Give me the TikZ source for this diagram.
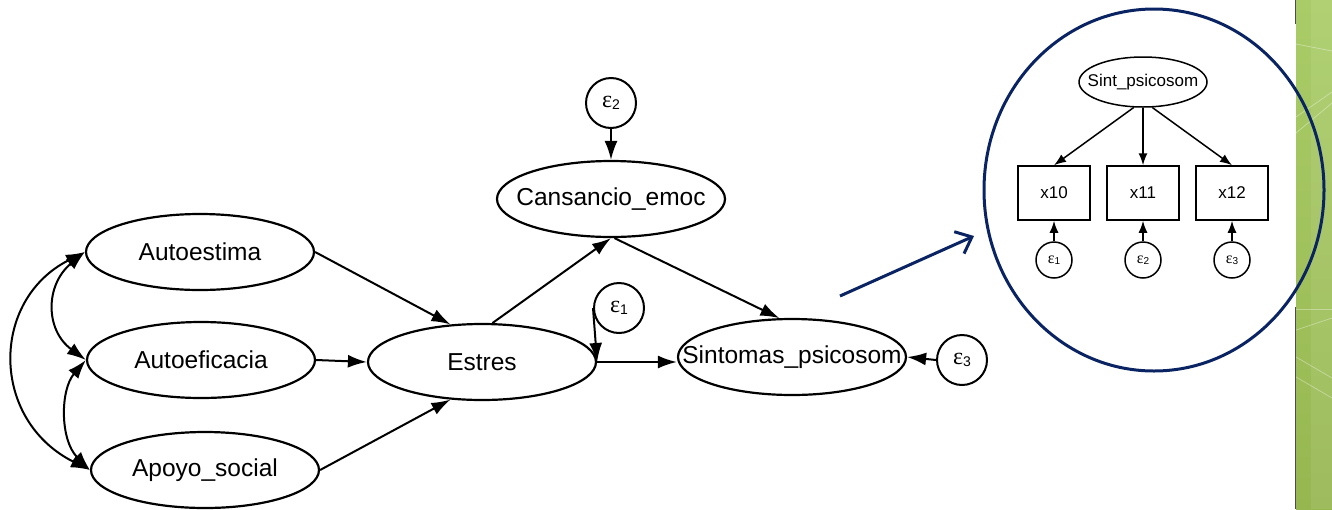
\documentclass[tikz,border=0pt]{standalone}
\usepackage{fontspec}
\setmainfont{Liberation Sans}
\newfontfamily\greekserif{Liberation Serif}
\usetikzlibrary{shapes.geometric,arrows.meta}
\definecolor{navy}{RGB}{10,36,99}
\definecolor{leafA}{RGB}{170,204,104}
\definecolor{leafB}{RGB}{150,183,80}
\newcommand\zerow[1]{\makebox[0pt]{#1}}
\newcommand\epsl[1]{{\greekserif\fontsize{24}{24}\selectfont ε}\raisebox{-1.5pt}{\fontsize{14}{14}\selectfont #1}}
\newcommand\epss[1]{{\greekserif\fontsize{16}{16}\selectfont ε}\raisebox{-1pt}{\fontsize{10}{10}\selectfont #1}}
\tikzset{
  latent/.style={ellipse, draw, line width=2.2pt, minimum width=228pt,
    minimum height=76pt, inner sep=0pt, font=\fontsize{24.5}{24.5}\selectfont},
  errc/.style={circle, draw, line width=2pt, minimum size=50pt, inner sep=0pt},
  pathar/.style={line width=2pt, -{Latex[length=19pt,width=13pt]}},
  covar/.style={line width=2pt, {Latex[length=19pt,width=13pt]}-{Latex[length=19pt,width=13pt]}},
  smlatent/.style={ellipse, draw, line width=1.5pt, minimum width=128pt,
    minimum height=50pt, inner sep=0pt, font=\fontsize{17}{17}\selectfont},
  obsbox/.style={rectangle, draw, line width=1.5pt, minimum width=72pt,
    minimum height=54pt, inner sep=0pt, font=\fontsize{17}{17}\selectfont},
  smerr/.style={circle, draw, line width=1.5pt, minimum size=36pt, inner sep=0pt},
  smpath/.style={line width=1.5pt, -{Latex[length=12pt,width=9pt]}},
}
\begin{document}
\begin{tikzpicture}[x=1pt,y=-1pt]
\useasboundingbox (0,0) rectangle (1332,509);

% green side band
\shade[top color=leafA, bottom color=leafB] (1296,0) rectangle (1332,509);
\fill[white, opacity=0.08] (1311,0) rectangle (1332,509);
\begin{scope}[white, opacity=0.35, line width=0.8pt]
  \draw (1296,44) -- (1332,51);
  \draw (1296,133) -- (1332,103);
  \draw (1296,117) -- (1332,92);
  \draw (1296,309) -- (1332,309);
  \draw (1296,330) -- (1332,318);
  \draw (1296,357) -- (1332,378);
  \draw (1296,377) -- (1332,398);
\end{scope}
\draw[black!70, line width=1.2pt] (1295.5,0) -- (1295.5,24);
\draw[black!70, line width=1.2pt] (1295.5,307) -- (1295.5,509);

% structural model
\node[latent] (ae)   at (200,252) {\zerow{Autoestima}};
\node[latent] (aef)  at (201,360) {\zerow{Autoeficacia}};
\node[latent] (apo)  at (205,470) {\zerow{Apoyo\_social}};
\node[latent] (est)  at (482,362) {\zerow{Estres}};
\node[latent] (can)  at (611,199) {\zerow{Cansancio\_emoc}};
\node[latent] (sint) at (792,357) {\zerow{Sintomas\_psicosom}};

\node[errc] (e2) at (611,103) {\epsl{2}};
\node[errc] (e1) at (619,308) {\epsl{1}};
\node[errc] (e3) at (962,360) {\epsl{3}};

\draw[pathar] (ae.east) -- (est.130);
\draw[pathar] (aef.east) -- (est.west);
\draw[pathar] (apo.east) -- (est.230);
\draw[pathar] (est.75) -- (can.south);
\draw[pathar] (can.-85) -- (sint.108);
\draw[pathar] (est.east) -- (est.east -| sint.west);
\draw[pathar] (e2.south) -- (can.north);
\draw[pathar] (e1.west) -- (est.east);
\draw[pathar] (e3.west) -- (sint.east);

% covariances
\draw[covar] (ae.west) .. controls (45,285) and (45,330) .. (aef.west);
\draw[covar] (aef.west) .. controls (60,390) and (60,440) .. (apo.west);
\draw[covar] (ae.west) .. controls (-10,300) and (-10,420) .. (apo.west);

% pointer to the measurement model
\coordinate (ptrA) at (840,296);
\coordinate (ptrB) at (974,236);
\draw[navy, line width=3pt, -{Straight Barb[length=14pt,width=24pt,line width=3pt]}] (ptrA) -- (ptrB);

% measurement model inset
\node[smlatent] (sp) at (1143,82) {\zerow{Sint\_psicosom}};
\node[obsbox] (x10) at (1054,193) {x10};
\node[obsbox] (x11) at (1143,193) {x11};
\node[obsbox] (x12) at (1232,193) {x12};
\node[smerr] (s1) at (1054,260) {\epss{1}};
\node[smerr] (s2) at (1143,260) {\epss{2}};
\node[smerr] (s3) at (1232,260) {\epss{3}};
\draw[smpath] (sp.-110) -- (x10.north);
\draw[smpath] (sp.south) -- (x11.north);
\draw[smpath] (sp.-70) -- (x12.north);
\draw[smpath] (s1.north) -- (x10.south);
\draw[smpath] (s2.north) -- (x11.south);
\draw[smpath] (s3.north) -- (x12.south);

\draw[navy, line width=3pt] (1154,190) ellipse [x radius=170, y radius=181];
\end{tikzpicture}
\end{document}
